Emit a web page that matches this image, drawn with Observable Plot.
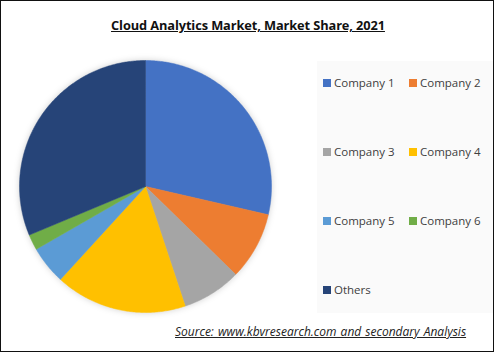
<!DOCTYPE html>
<html><head><meta charset="utf-8">
<script src="https://cdn.jsdelivr.net/npm/d3@7"></script>
<script src="https://cdn.jsdelivr.net/npm/@observablehq/plot@0.6"></script>
<style>
html,body{margin:0;padding:0;background:#fff;}
#frame{position:relative;width:494px;height:352px;box-sizing:border-box;border:1.5px solid #111;background:#fff;overflow:hidden;font-family:"Open Sans","Liberation Sans",sans-serif;}
#title{position:absolute;left:0;width:494px;top:15px;text-align:center;font-weight:bold;font-size:12.8px;color:#111;text-decoration:underline;letter-spacing:-0.1px;}
#legbox{position:absolute;left:316px;top:60px;width:180px;height:252px;background:#fafafa;}
.li{position:absolute;font-size:11.5px;color:#404040;white-space:nowrap;line-height:12px;}
.sw{display:inline-block;width:8px;height:8px;margin-right:3px;vertical-align:0px;}
#pie{position:absolute;left:18px;top:59px;}
#pie svg{overflow:visible;}
#src{position:absolute;left:174px;top:322px;font-style:italic;text-decoration:underline;font-size:12px;color:#222;white-space:nowrap;word-spacing:1px;}
</style></head>
<body>
<div id="frame">
  <div id="title"></div>
  <div id="legbox"></div>
  <div id="pie"></div>
  <div id="legend"></div>
  <div id="src"></div>
</div>
<script>
const titleText = "Cloud Analytics Market, Market Share, 2021";
const sourceText = "Source:  www.kbvresearch.com   and secondary Analysis";
const categories = ["Company 1","Company 2","Company 3","Company 4","Company 5","Company 6","Others"];
const shares = [28.6, 8.7, 7.6, 16.9, 4.9, 2.0, 31.3];
const colors = ["#4472C4","#ED7D31","#A5A5A5","#FFC000","#5B9BD5","#70AD47","#264478"];

document.getElementById("title").textContent = titleText;
document.getElementById("src").textContent = sourceText;

const slices = d3.pie().sort(null).value(d => d.value)(categories.map((c,i)=>({name:c,value:shares[i]})));
const pts = [];
for (const s of slices) {
  pts.push({name: s.data.name, x: 0, y: 0});
  const n = Math.max(2, Math.ceil((s.endAngle - s.startAngle) / 0.01));
  for (let k = 0; k <= n; k++) {
    const a = s.startAngle + (s.endAngle - s.startAngle) * k / n;
    pts.push({name: s.data.name, x: Math.sin(a), y: Math.cos(a)});
  }
  pts.push({name: s.data.name, x: 0, y: 0});
}

const chart = Plot.plot({
  width: 252, height: 252,
  margin: 0,
  x: {domain: [-1, 1], axis: null},
  y: {domain: [-1, 1], axis: null},
  color: {domain: categories, range: colors},
  style: {background: "transparent", overflow: "visible"},
  marks: [
    Plot.line(pts, {x: "x", y: "y", z: "name", fill: "name", stroke: "name", strokeWidth: 0.5, curve: "linear"})
  ]
});
chart.style.filter = "drop-shadow(0px 0px 3px rgba(0,0,0,0.18))";
document.getElementById("pie").appendChild(chart);

const legend = document.getElementById("legend");
const legPos = [[322,76],[408,76],[322,145],[408,145],[322,214],[408,214],[322,283]];
categories.forEach((c,i)=>{
  const d = document.createElement("div");
  d.className = "li";
  d.style.left = legPos[i][0] + "px";
  d.style.top = legPos[i][1] + "px";
  d.innerHTML = `<span class="sw" style="background:${colors[i]}"></span>`;
  d.appendChild(document.createTextNode(c));
  legend.appendChild(d);
});
</script>
</body></html>
